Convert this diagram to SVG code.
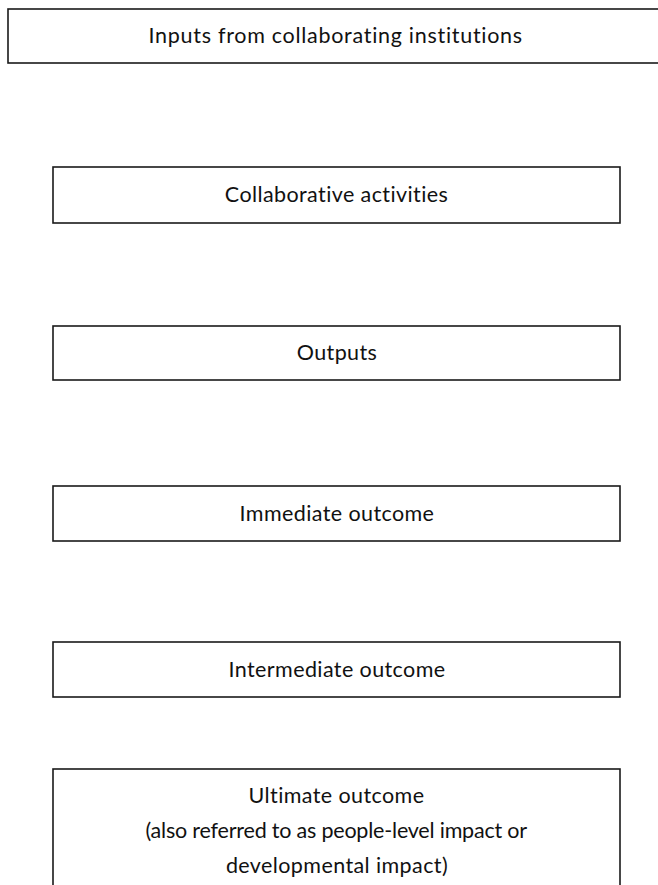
<svg xmlns="http://www.w3.org/2000/svg" width="658" height="885" viewBox="0 0 658 885">
<style>
.box{fill:#fff;stroke:#1a1a1a;stroke-width:1.6}
.t{font-family:Lato,"Open Sans","Liberation Sans",sans-serif;font-size:21.5px;letter-spacing:0.4px;fill:#111;text-anchor:middle}
</style>
<rect width="658" height="885" fill="#fff"/>
<g id="connectors"></g>
<g id="inputs"><rect class="box" x="8" y="9" width="660" height="54"/><text class="t" x="335.5" y="43" textLength="374" lengthAdjust="spacing">Inputs from collaborating institutions</text></g>
<g id="activities"><rect class="box" x="53" y="167" width="567" height="56"/><text class="t" x="336.5" y="202">Collaborative activities</text></g>
<g id="outputs"><rect class="box" x="53" y="326" width="567" height="54"/><text class="t" x="337" y="360">Outputs</text></g>
<g id="immediate"><rect class="box" x="53" y="486" width="567" height="55"/><text class="t" x="337" y="521">Immediate outcome</text></g>
<g id="intermediate"><rect class="box" x="53" y="642" width="567" height="55"/><text class="t" x="337" y="677">Intermediate outcome</text></g>
<g id="ultimate"><rect class="box" x="53" y="769" width="567" height="130"/><text class="t" x="336.5" y="803">Ultimate outcome</text><text class="t" x="336.5" y="838" textLength="382" lengthAdjust="spacing">(also referred to as people-level impact or</text><text class="t" x="337" y="873">developmental impact)</text></g>
</svg>
